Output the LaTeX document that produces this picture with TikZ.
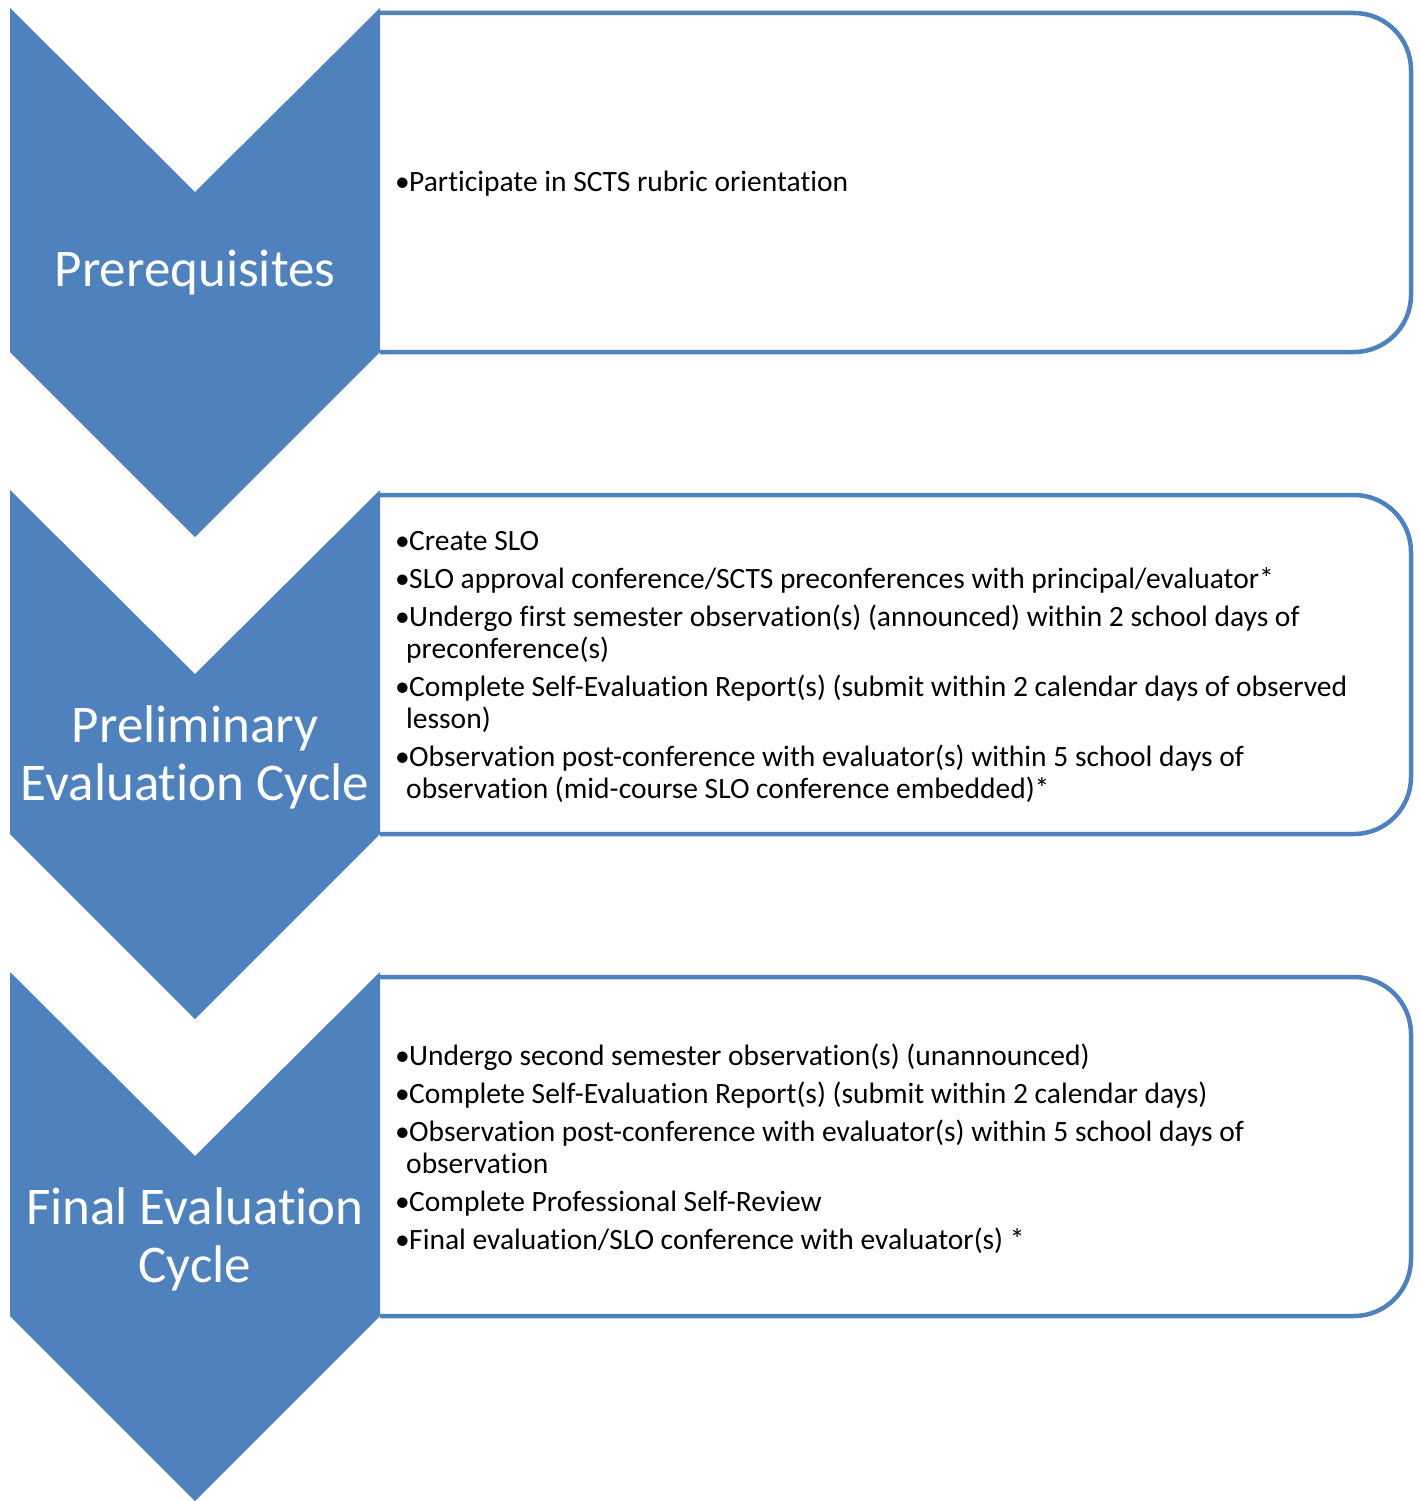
\documentclass[tikz,border=0pt]{standalone}
\usepackage{fontspec}
\setmainfont{Carlito}[Ligatures={NoCommon}]
\definecolor{accent}{HTML}{4F81BD}
\newcommand\bul{\makebox[14pt][l]{•}}
\newcommand\cont{\hspace*{11pt}}
\begin{document}
\begin{tikzpicture}[x=1pt,y=-1pt,
  chevfill/.style={fill=accent},
  boxline/.style={draw=accent,line width=4.5pt,rounded corners=57pt},
  steplabel/.style={text=white,align=center,inner sep=0pt,font=\fontsize{53}{58}\selectfont},
  bullettext/.style={anchor=west,align=left,inner sep=0pt,text=black,font=\fontsize{29.5}{32}\selectfont}]
\useasboundingbox (0,0) rectangle (1420,1501);
% boxes and chevrons
\foreach \dy in {0,482,964}{
  \begin{scope}[yshift=-\dy pt]
  \draw[boxline] (380,13) -- (1411,13) -- (1411,352) -- (380,352);
  \fill[chevfill] (10,8) -- (195,192) -- (380,8) -- (380,352) -- (195,537) -- (10,352) -- cycle;
  \end{scope}
}
% chevron labels
\node[steplabel] (c1) at (195,273) {Prerequisites};
\node[steplabel] (c2) at (195,757) {Preliminary\\Evaluation Cycle};
\node[steplabel] (c3) at (195,1239) {Final Evaluation\\Cycle};
% box texts
\node[bullettext] (t1) at (395,184) {\bul Participate in SCTS rubric orientation};
\node[bullettext] (t2) at (395,667) {\bul Create SLO\\[6pt]
\bul SLO approval conference/SCTS preconferences with principal/evaluator*\\[6pt]
\bul Undergo first semester observation(s) (announced) within 2 school days of\\
\cont preconference(s)\\[6pt]
\bul Complete Self-Evaluation Report(s) (submit within 2 calendar days of observed\\
\cont lesson)\\[6pt]
\bul Observation post-conference with evaluator(s) within 5 school days of\\
\cont observation (mid-course SLO conference embedded)*};
\node[bullettext] (t3) at (395,1149) {\bul Undergo second semester observation(s) (unannounced)\\[6pt]
\bul Complete Self-Evaluation Report(s) (submit within 2 calendar days)\\[6pt]
\bul Observation post-conference with evaluator(s) within 5 school days of\\
\cont observation\\[6pt]
\bul Complete Professional Self-Review\\[6pt]
\bul Final evaluation/SLO conference with evaluator(s) *};
\end{tikzpicture}
\end{document}
